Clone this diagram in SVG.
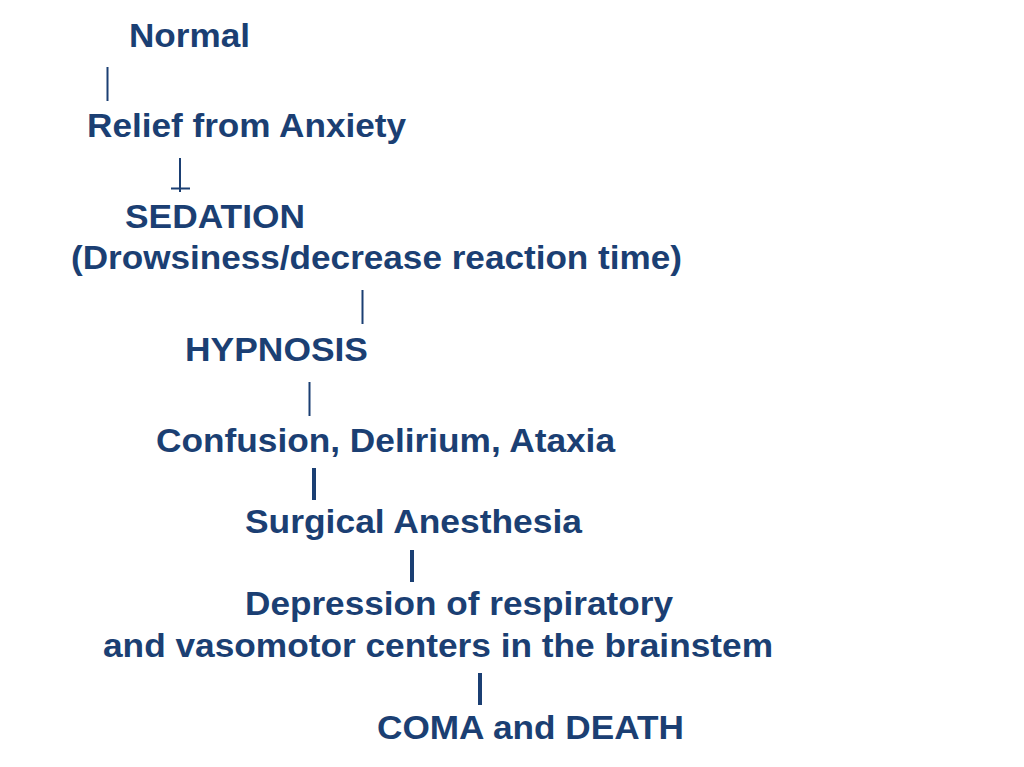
<svg xmlns="http://www.w3.org/2000/svg" width="1024" height="767" viewBox="0 0 1024 767">
  <style>
    .t { font-family: "Liberation Sans", Arial, sans-serif; font-weight: bold; font-size: 34px; fill: #1B3F73; }
    .c { stroke: #1B3F73; fill: none; }
    .thin { stroke-width: 2; }
    .thick { stroke-width: 4; }
  </style>
  <rect width="1024" height="767" fill="#ffffff"/>
  <g id="connectors">
    <line class="c thin" x1="107.5" y1="67" x2="107.5" y2="101"/>
    <line class="c thin" x1="180" y1="158" x2="180" y2="192"/>
    <line class="c thin" x1="171" y1="188.5" x2="190" y2="188.5"/>
    <line class="c thin" x1="362.5" y1="290" x2="362.5" y2="324"/>
    <line class="c thin" x1="309.5" y1="382" x2="309.5" y2="416"/>
    <line class="c thick" x1="314" y1="468" x2="314" y2="500"/>
    <line class="c thick" x1="412" y1="550" x2="412" y2="582"/>
    <line class="c thick" x1="480" y1="673" x2="480" y2="705"/>
  </g>
  <g id="normal"><text class="t" x="129" y="47" textLength="121" lengthAdjust="spacingAndGlyphs">Normal</text></g>
  <g id="relief"><text class="t" x="87" y="137" textLength="319" lengthAdjust="spacingAndGlyphs">Relief from Anxiety</text></g>
  <g id="sedation">
    <text class="t" x="125" y="228" textLength="180" lengthAdjust="spacingAndGlyphs">SEDATION</text>
    <text class="t" x="71" y="269" textLength="611" lengthAdjust="spacingAndGlyphs">(Drowsiness/decrease reaction time)</text>
  </g>
  <g id="hypnosis"><text class="t" x="185" y="361" textLength="183" lengthAdjust="spacingAndGlyphs">HYPNOSIS</text></g>
  <g id="confusion"><text class="t" x="156" y="452" textLength="459" lengthAdjust="spacingAndGlyphs">Confusion, Delirium, Ataxia</text></g>
  <g id="surgical"><text class="t" x="245" y="533" textLength="337" lengthAdjust="spacingAndGlyphs">Surgical Anesthesia</text></g>
  <g id="depression">
    <text class="t" x="245" y="615" textLength="428" lengthAdjust="spacingAndGlyphs">Depression of respiratory</text>
    <text class="t" x="103" y="657" textLength="670" lengthAdjust="spacingAndGlyphs">and vasomotor centers in the brainstem</text>
  </g>
  <g id="coma"><text class="t" x="377" y="739" textLength="307" lengthAdjust="spacingAndGlyphs">COMA and DEATH</text></g>
</svg>
